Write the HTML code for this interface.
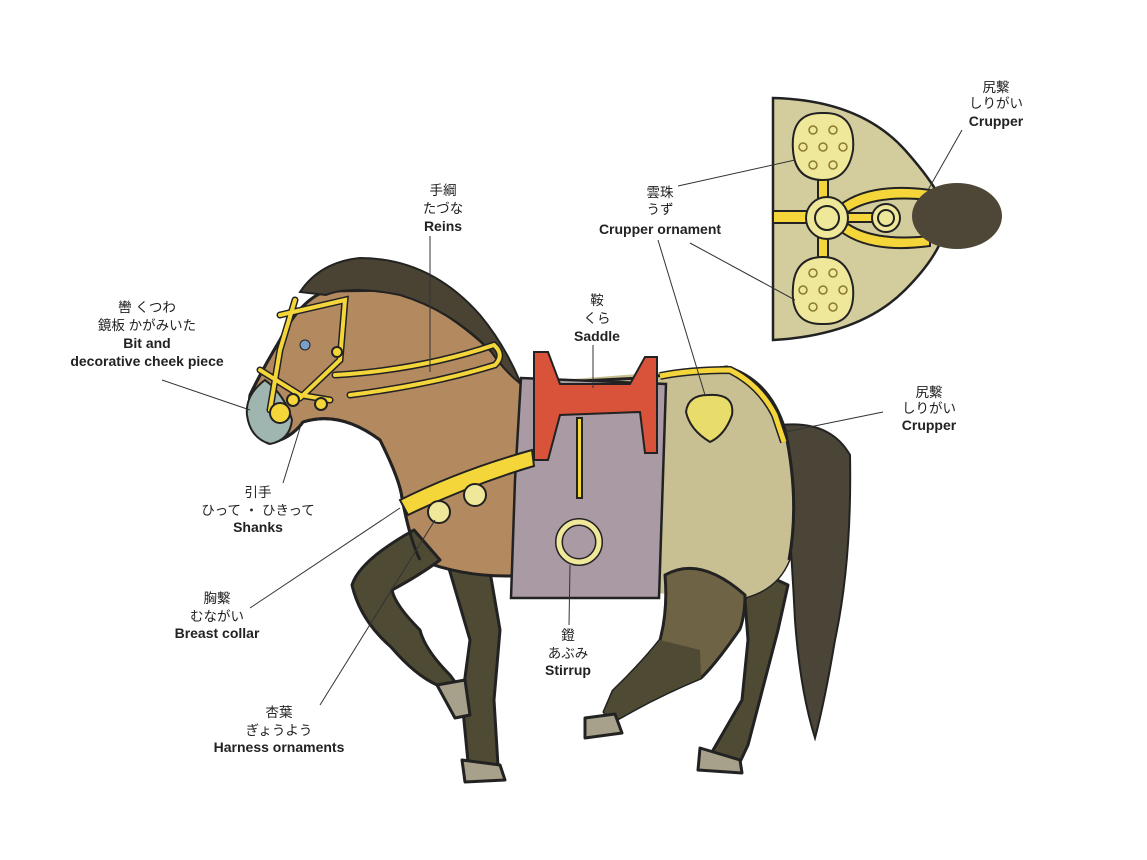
<!DOCTYPE html>
<html><head><meta charset="utf-8"><style>
html,body{margin:0;padding:0;background:#fff;}
svg{display:block}
.j{font-family:"Liberation Sans","Noto Sans CJK JP",sans-serif;font-size:13.5px;fill:#222;text-anchor:middle}
.b{font-family:"Liberation Sans","Noto Sans CJK JP",sans-serif;font-size:14px;font-weight:bold;fill:#222;text-anchor:middle}
.l{stroke:#333;stroke-width:1;fill:none}
.o{stroke:#222;stroke-width:3;stroke-linejoin:round}
.y{fill:#f5d63a;stroke:#222;stroke-width:2}
</style></head><body>
<svg width="1147" height="860" viewBox="0 0 1147 860" xmlns="http://www.w3.org/2000/svg">
<!-- inset -->
<path d="M773 98 Q860 100 905 150 Q945 195 947 218 Q945 250 905 290 Q860 335 773 340 Z" fill="#d3cd9e" stroke="#222" stroke-width="2.5"/>
<rect x="773" y="211" width="40" height="12" class="y"/>
<path d="M840 205 Q870 182 930 190 L930 200 Q875 194 848 212 Z" class="y"/>
<path d="M840 231 Q870 254 930 246 L930 236 Q875 242 848 224 Z" class="y"/>
<rect x="818" y="160" width="10" height="40" class="y"/>
<rect x="818" y="236" width="10" height="40" class="y"/>
<rect x="845" y="213" width="30" height="9" class="y"/>
<path d="M823 113 Q856 112 853 150 Q848 180 823 180 Q795 180 793 150 Q790 112 823 113Z" fill="#efe79a" stroke="#222" stroke-width="2"/>
<path d="M823 324 Q856 325 853 287 Q848 257 823 257 Q795 257 793 287 Q790 325 823 324Z" fill="#efe79a" stroke="#222" stroke-width="2"/>
<g fill="none" stroke="#8a7a30" stroke-width="1.5">
<circle cx="813" cy="130" r="4"/><circle cx="833" cy="130" r="4"/><circle cx="803" cy="147" r="4"/><circle cx="823" cy="147" r="4"/><circle cx="843" cy="147" r="4"/><circle cx="813" cy="165" r="4"/><circle cx="833" cy="165" r="4"/>
<circle cx="813" cy="273" r="4"/><circle cx="833" cy="273" r="4"/><circle cx="803" cy="290" r="4"/><circle cx="823" cy="290" r="4"/><circle cx="843" cy="290" r="4"/><circle cx="813" cy="307" r="4"/><circle cx="833" cy="307" r="4"/>
</g>
<ellipse cx="957" cy="216" rx="45" ry="33" fill="#4e4637"/>
<circle cx="827" cy="218" r="21" fill="#efe79a" stroke="#222" stroke-width="2"/>
<circle cx="827" cy="218" r="12" fill="#efe79a" stroke="#222" stroke-width="2"/>
<circle cx="886" cy="218" r="14" fill="#efe79a" stroke="#222" stroke-width="2"/>
<circle cx="886" cy="218" r="8" fill="#efe79a" stroke="#222" stroke-width="2"/>
<!-- tail -->
<path d="M781 425 Q830 420 850 455 Q852 560 835 640 Q825 700 815 738 Q800 690 795 620 Q790 520 781 425Z" fill="#4a4536" stroke="#222" stroke-width="2"/>
<!-- far front leg -->
<path d="M445 555 L470 640 L462 700 L468 762 L498 766 L494 700 L500 630 L488 560 Z" fill="#4f4a33" class="o"/>
<path d="M462 760 L500 765 L505 780 L465 782 Z" fill="#a7a08a" class="o"/>
<!-- far hind leg -->
<path d="M755 570 L788 585 L778 630 L748 745 L740 762 L712 752 L742 700 L748 640 L745 600Z" fill="#4f4a33" class="o"/>
<path d="M700 748 L740 760 L742 773 L698 770 Z" fill="#a7a08a" class="o"/>
<!-- body -->
<path d="M326 291 Q300 300 280 340 Q262 370 250 395 Q246 430 268 443 Q290 440 303 422 Q340 410 380 440 Q400 480 402 498 Q410 540 420 560 Q470 580 530 575 Q600 600 670 590 Q700 590 730 600 Q775 595 789 560 Q800 500 785 430 Q770 380 727 367 Q690 372 640 378 L521 384 Q470 320 400 290 Z" fill="#b3895f" class="o"/>
<path d="M560 380 L727 367 Q770 380 785 430 Q800 500 789 560 Q775 595 730 600 Q680 592 560 590Z" fill="#c8c092"/>
<!-- near hind leg -->
<path d="M665 575 Q700 555 745 595 Q745 615 740 629 Q715 665 701 678 Q660 695 625 715 L612 722 L604 712 L613 691 Q640 665 660 640 Q668 610 665 575Z" fill="#6e6445" class="o"/>
<path d="M701 678 Q660 695 625 715 L612 722 L604 712 L613 691 Q640 665 660 640 L700 650Z" fill="#4f4a33"/>
<path d="M585 718 L615 714 L622 733 L585 738 Z" fill="#a7a08a" class="o"/>
<!-- raised front leg -->
<path d="M414 530 Q360 560 352 585 Q360 620 391 647 Q415 675 437 685 L460 712 L468 700 L450 675 Q425 650 420 630 Q395 605 392 590 Q420 575 440 560 Z" fill="#4f4a33" class="o"/>
<path d="M437 685 L465 680 L470 715 L455 718 Z" fill="#a7a08a" class="o"/>
<!-- outline redraw of body -->
<path d="M326 291 Q300 300 280 340 Q262 370 250 395 Q246 430 268 443 Q290 440 303 422 Q340 410 380 440 Q400 480 402 498 Q410 540 420 560 M521 384 L640 378 Q690 372 727 367 Q770 380 785 430 Q800 500 789 560" fill="none" class="o"/>
<!-- mane -->
<path d="M300 292 Q320 262 360 258 Q430 258 480 315 Q505 345 521 384 Q505 372 490 350 Q450 310 400 295 Q350 285 326 295 Z" fill="#4a4333" stroke="#222" stroke-width="2"/>
<!-- muzzle -->
<path d="M265 380 Q245 395 247 415 Q250 438 270 444 Q290 440 292 420 Q285 395 265 380Z" fill="#9eb5b0" stroke="#222" stroke-width="2"/>
<circle cx="305" cy="345" r="5" fill="#7aa0c8" stroke="#222"/>
<!-- bridle -->
<g fill="none" stroke="#222" stroke-width="7" stroke-linecap="round"><path d="M295 300 L280 350 L270 410 M280 315 L345 300 L340 360 L300 398 M260 370 L300 395 L330 400 M335 375 Q420 370 494 345 Q505 355 495 365 Q430 385 350 395"/></g>
<g fill="none" stroke="#f5d63a" stroke-width="4" stroke-linecap="round"><path d="M295 300 L280 350 L270 410 M280 315 L345 300 L340 360 L300 398 M260 370 L300 395 L330 400 M335 375 Q420 370 494 345 Q505 355 495 365 Q430 385 350 395"/></g>
<circle cx="280" cy="413" r="10" class="y"/><circle cx="293" cy="400" r="6" class="y"/><circle cx="321" cy="404" r="6" class="y"/><circle cx="337" cy="352" r="5" class="y"/>
<!-- saddle pad -->
<path d="M521 378 L666 384 L659 598 L511 598 L515 480 Z" fill="#a99aa4" stroke="#222" stroke-width="2.5"/>
<!-- breast collar -->
<path d="M400 500 Q460 470 532 450 L534 466 Q470 485 408 515 Z" class="y"/>
<circle cx="475" cy="495" r="11" fill="#efe79a" stroke="#222" stroke-width="2"/>
<circle cx="439" cy="512" r="11" fill="#efe79a" stroke="#222" stroke-width="2"/>
<!-- saddle -->
<path d="M534 352 L548 352 L560 384 L630 384 L645 357 L657 357 L657 453 L645 453 L640 412 L560 415 L548 460 L534 460 Z" fill="#d9523a" stroke="#222" stroke-width="2"/>
<rect x="577" y="418" width="5" height="80" class="y"/>
<circle cx="579" cy="542" r="20" fill="none" stroke="#222" stroke-width="8"/>
<circle cx="579" cy="542" r="20" fill="none" stroke="#efe79a" stroke-width="5"/>
<!-- crupper -->
<path d="M660 376 Q690 370 730 370 Q760 385 775 415 L784 442" fill="none" stroke="#222" stroke-width="8"/>
<path d="M660 376 Q690 370 730 370 Q760 385 775 415 L784 442" fill="none" stroke="#f5d63a" stroke-width="5"/>
<path d="M708 395 Q735 393 732 415 Q725 435 710 442 Q690 430 686 412 Q688 395 708 395Z" fill="#e8dc6a" stroke="#222" stroke-width="2"/>
<!-- leader lines -->
<g class="l">
<line x1="430" y1="236" x2="430" y2="372"/>
<line x1="162" y1="380" x2="250" y2="410"/>
<line x1="283" y1="483" x2="300" y2="428"/>
<line x1="250" y1="608" x2="400" y2="508"/>
<line x1="320" y1="705" x2="435" y2="520"/>
<line x1="593" y1="345" x2="593" y2="388"/>
<line x1="569" y1="625" x2="570" y2="565"/>
<line x1="658" y1="240" x2="705" y2="395"/>
<line x1="678" y1="186" x2="795" y2="160"/>
<line x1="690" y1="243" x2="795" y2="300"/>
<line x1="883" y1="412" x2="785" y2="432"/>
<line x1="962" y1="130" x2="928" y2="190"/>
</g>
<!-- labels -->
<text class="j" x="996" y="92">尻繫</text><text class="j" x="996" y="108">しりがい</text><text class="b" x="996" y="126">Crupper</text>
<text class="j" x="660" y="197">雲珠</text><text class="j" x="660" y="214">うず</text><text class="b" x="660" y="234">Crupper ornament</text>
<text class="j" x="443" y="195">手綱</text><text class="j" x="443" y="213">たづな</text><text class="b" x="443" y="231">Reins</text>
<text class="j" x="147" y="312">轡 くつわ</text><text class="j" x="147" y="330">鏡板 かがみいた</text><text class="b" x="147" y="348">Bit and</text><text class="b" x="147" y="366">decorative cheek piece</text>
<text class="j" x="597" y="305">鞍</text><text class="j" x="597" y="323">くら</text><text class="b" x="597" y="341">Saddle</text>
<text class="j" x="929" y="397">尻繫</text><text class="j" x="929" y="413">しりがい</text><text class="b" x="929" y="430">Crupper</text>
<text class="j" x="258" y="497">引手</text><text class="j" x="258" y="515">ひって ・ ひきって</text><text class="b" x="258" y="532">Shanks</text>
<text class="j" x="217" y="603">胸繫</text><text class="j" x="217" y="621">むながい</text><text class="b" x="217" y="638">Breast collar</text>
<text class="j" x="568" y="640">鐙</text><text class="j" x="568" y="658">あぶみ</text><text class="b" x="568" y="675">Stirrup</text>
<text class="j" x="279" y="717">杏葉</text><text class="j" x="279" y="735">ぎょうよう</text><text class="b" x="279" y="752">Harness ornaments</text>
</svg>
</body></html>
